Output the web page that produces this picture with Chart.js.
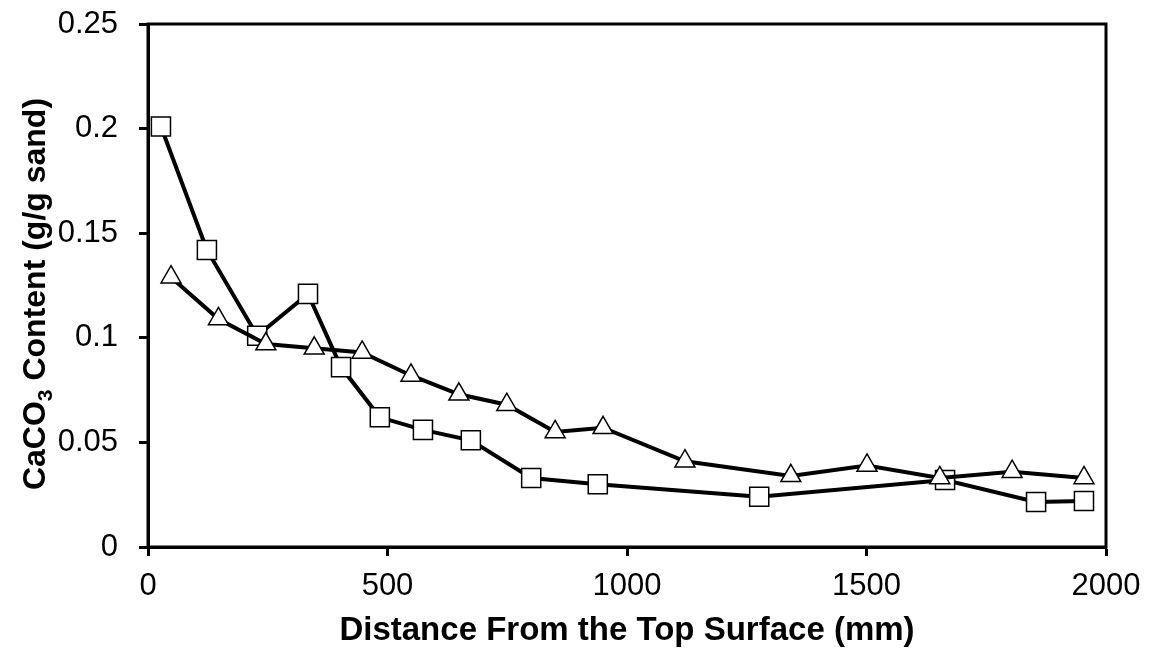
<!DOCTYPE html>
<html>
<head>
<meta charset="utf-8">
<script src="https://cdn.jsdelivr.net/npm/chart.js@4"></script>
<style>
  body { margin: 0; background: #fff; }
  #wrap { width: 1156px; height: 652px; position: relative; }
</style>
</head>
<body>
<div id="wrap"><canvas id="grafico"></canvas></div>
<script>
// distance from top surface (mm) and CaCO3 content (g/g sand)
const distTriangulo = [48, 147, 246, 347, 447, 549, 649, 749, 850, 950, 1121, 1342, 1501, 1653, 1804, 1954];
const caco3Triangulo = [0.129, 0.109, 0.097, 0.095, 0.093, 0.082, 0.073, 0.068, 0.055, 0.057, 0.041, 0.034, 0.039, 0.033, 0.036, 0.033];
const distCuadrado = [27, 123, 228, 334, 403, 484, 574, 674, 800, 939, 1276, 1664, 1854, 1954];
const caco3Cuadrado = [0.201, 0.142, 0.101, 0.121, 0.086, 0.062, 0.056, 0.051, 0.033, 0.030, 0.024, 0.032, 0.0215, 0.022];

const xTicks = [0, 500, 1000, 1500, 2000];
const yTicks = [0, 0.05, 0.1, 0.15, 0.2, 0.25];

const tituloX = "Distance From the Top Surface (mm)";
const tituloY = ["CaCO", "3", " Content (g/g sand)"];

const FUENTE = "'Liberation Sans', Arial, sans-serif";

function puntos(xs, ys) {
  return xs.map((x, i) => ({ x: x, y: ys[i] }));
}

const marcoYTitulos = {
  id: "marcoYTitulos",
  afterDatasetsDraw(chart) {
    const { ctx, chartArea } = chart;
    ctx.save();
    ctx.strokeStyle = "#000";
    ctx.lineWidth = 3;
    ctx.strokeRect(chartArea.left, chartArea.top, chartArea.right - chartArea.left, chartArea.bottom - chartArea.top);
    ctx.restore();
  },
  afterDraw(chart) {
    const { ctx, chartArea } = chart;
    ctx.save();
    ctx.fillStyle = "#000";

    // x title
    ctx.font = "bold 33px " + FUENTE;
    ctx.textAlign = "center";
    ctx.textBaseline = "alphabetic";
    ctx.fillText(tituloX, (chartArea.left + chartArea.right) / 2, 640);

    // y title with subscript
    const big = "bold 32px " + FUENTE;
    const small = "bold 21px " + FUENTE;
    ctx.font = big;
    const w1 = ctx.measureText(tituloY[0]).width;
    const w3 = ctx.measureText(tituloY[2]).width;
    ctx.font = small;
    const w2 = ctx.measureText(tituloY[1]).width;
    const total = w1 + w2 + w3;
    ctx.translate(45, 294);
    ctx.rotate(-Math.PI / 2);
    ctx.textAlign = "left";
    let x = -total / 2;
    ctx.font = big;
    ctx.fillText(tituloY[0], x, 0);
    x += w1;
    ctx.font = small;
    ctx.fillText(tituloY[1], x, 7);
    x += w2;
    ctx.font = big;
    ctx.fillText(tituloY[2], x, 0);
    ctx.restore();
  }
};

const ctx = document.getElementById("grafico");
new Chart(ctx, {
  type: "line",
  data: {
    datasets: [
      {
        label: "triangle",
        data: puntos(distTriangulo, caco3Triangulo),
        borderColor: "#000",
        borderWidth: 4,
        pointStyle: "triangle",
        pointRadius: 11.5,
        pointBorderWidth: 1.5,
        pointBackgroundColor: "#fff",
        pointBorderColor: "#000",
        tension: 0,
        fill: false
      },
      {
        label: "square",
        data: puntos(distCuadrado, caco3Cuadrado),
        borderColor: "#000",
        borderWidth: 4,
        pointStyle: "rect",
        pointRadius: 13.5,
        pointBorderWidth: 1.5,
        pointBackgroundColor: "#fff",
        pointBorderColor: "#000",
        tension: 0,
        fill: false
      }
    ]
  },
  options: {
    responsive: true,
    maintainAspectRatio: false,
    animation: false,
    events: [],
    layout: { padding: { top: 24, right: 50, left: 0, bottom: 0 } },
    plugins: {
      legend: { display: false },
      tooltip: { enabled: false },
      title: { display: false }
    },
    scales: {
      x: {
        type: "linear",
        min: xTicks[0],
        max: xTicks[xTicks.length - 1],
        afterBuildTicks: (s) => { s.ticks = xTicks.map(v => ({ value: v })); },
        afterFit: (s) => { s.height = 105; },
        border: { display: true, color: "#000", width: 3 },
        grid: { drawOnChartArea: false, drawTicks: true, tickLength: 9, tickWidth: 3, tickColor: "#000" },
        ticks: {
          color: "#000",
          font: { family: FUENTE, size: 31 },
          padding: 12,
          maxRotation: 0,
          callback: (v) => String(v)
        }
      },
      y: {
        type: "linear",
        min: yTicks[0],
        max: yTicks[yTicks.length - 1],
        afterBuildTicks: (s) => { s.ticks = yTicks.map(v => ({ value: v })); },
        afterFit: (s) => { s.width = 148; s.paddingTop = 0; s.paddingBottom = 0; },
        border: { display: true, color: "#000", width: 3 },
        grid: { drawOnChartArea: false, drawTicks: true, tickLength: 9, tickWidth: 3, tickColor: "#000" },
        ticks: {
          color: "#000",
          font: { family: FUENTE, size: 31 },
          padding: 21,
          callback: (v) => String(Math.round(v * 100) / 100)
        }
      }
    }
  },
  plugins: [marcoYTitulos]
});
</script>
</body>
</html>
